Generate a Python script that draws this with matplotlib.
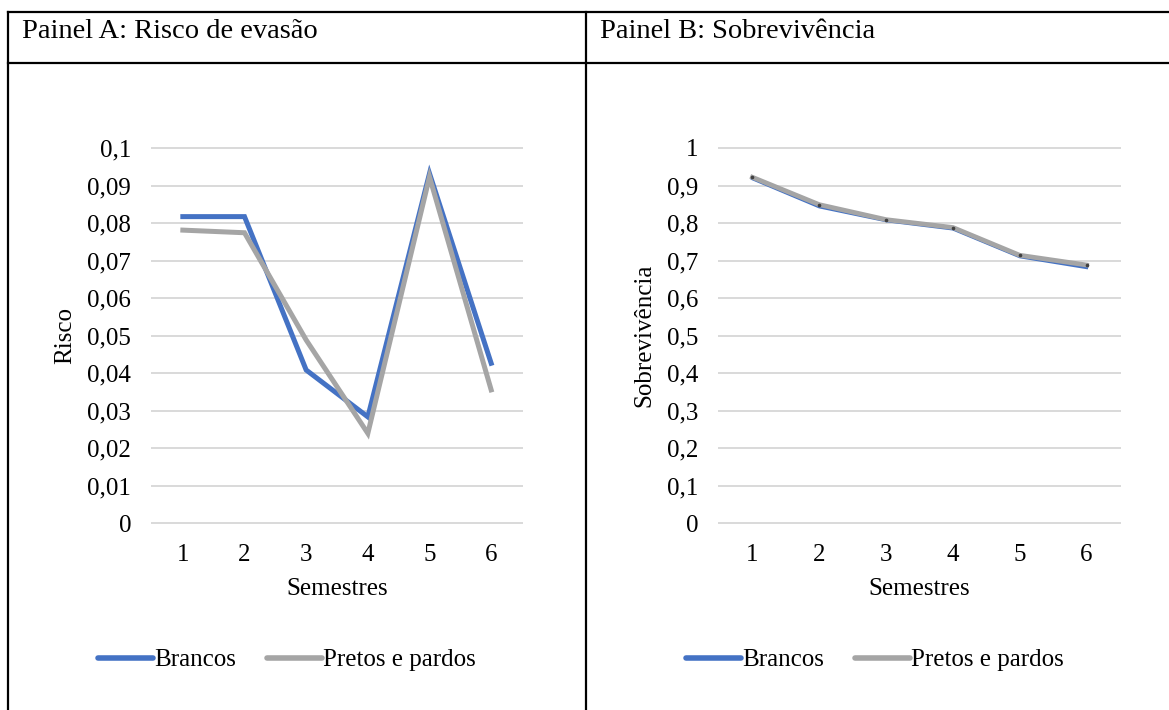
import matplotlib
matplotlib.use("Agg")
import matplotlib.pyplot as plt
from matplotlib.lines import Line2D

plt.rcParams['font.family'] = ['Liberation Serif', 'DejaVu Serif']

semestres = [1, 2, 3, 4, 5, 6]
risco_brancos = [0.0817, 0.0817, 0.0408, 0.0283, 0.0932, 0.0426]
risco_pretos = [0.0781, 0.0774, 0.0488, 0.0239, 0.0923, 0.0355]
sobrev_brancos = [0.918, 0.843, 0.806, 0.784, 0.710, 0.681]
sobrev_pretos = [0.922, 0.849, 0.809, 0.788, 0.714, 0.688]
risco_ticks = [0, 0.01, 0.02, 0.03, 0.04, 0.05, 0.06, 0.07, 0.08, 0.09, 0.1]
risco_labels = ['0', '0,01', '0,02', '0,03', '0,04', '0,05', '0,06', '0,07', '0,08', '0,09', '0,1']
sobrev_ticks = [0, 0.1, 0.2, 0.3, 0.4, 0.5, 0.6, 0.7, 0.8, 0.9, 1.0]
sobrev_labels = ['0', '0,1', '0,2', '0,3', '0,4', '0,5', '0,6', '0,7', '0,8', '0,9', '1']
titles = ['Painel A: Risco de evasão', 'Painel B: Sobrevivência']
series_names = ['Brancos', 'Pretos e pardos']

BLUE = '#4472C4'
GRAY = '#A5A5A5'
GRID = '#D9D9D9'
FS = 18
FS_TITLE = 20.5

W, H = 1169, 710
fig = plt.figure(figsize=(W / 100, H / 100), dpi=100)

def fx(px):
    return px / W

def fy(py):
    return 1 - py / H

# table frame
lw_frame = 1.6
fig.add_artist(Line2D([fx(8), fx(1169)], [fy(12), fy(12)], color='black', lw=lw_frame, transform=fig.transFigure))
fig.add_artist(Line2D([fx(8), fx(1169)], [fy(62.7), fy(62.7)], color='black', lw=lw_frame, transform=fig.transFigure))
fig.add_artist(Line2D([fx(8), fx(8)], [fy(12), fy(712)], color='black', lw=lw_frame, transform=fig.transFigure))
fig.add_artist(Line2D([fx(586), fx(586)], [fy(12), fy(712)], color='black', lw=lw_frame, transform=fig.transFigure))

fig.text(fx(22), fy(31), titles[0], fontsize=FS_TITLE, va='center', ha='left')
fig.text(fx(600), fy(31), titles[1], fontsize=FS_TITLE, va='center', ha='left')

def setup(ax, ticks, labels, ylabel):
    ax.set_xlim(0.5, 6.5)
    ax.set_ylim(ticks[0], ticks[-1])
    ax.set_yticks(ticks)
    ax.set_yticklabels(labels, fontsize=FS)
    ax.set_xticks(semestres)
    ax.set_xticklabels([str(s) for s in semestres], fontsize=FS)
    for s in ax.spines.values():
        s.set_visible(False)
    ax.tick_params(axis='y', length=0, pad=15)
    ax.tick_params(axis='x', length=0, pad=15)
    ax.grid(axis='y', color=GRID, lw=1.4, clip_on=False)
    ax.set_axisbelow(True)
    ax.set_xlabel('Semestres', fontsize=FS, labelpad=9)
    ax.set_ylabel(ylabel, fontsize=FS, labelpad=8)

# Panel A
axA = fig.add_axes([fx(152), fy(523), fx(522) - fx(152), fy(148) - fy(523)])
setup(axA, risco_ticks, risco_labels, 'Risco')
axA.plot(semestres, risco_brancos, color=BLUE, lw=3.6, solid_joinstyle='miter', clip_on=False)
axA.plot(semestres, risco_pretos, color=GRAY, lw=3.6, solid_joinstyle='miter', clip_on=False)

# Panel B
axB = fig.add_axes([fx(719), fy(523), fx(1120) - fx(719), fy(148) - fy(523)])
setup(axB, sobrev_ticks, sobrev_labels, 'Sobrevivência')
axB.plot(semestres, sobrev_brancos, color=BLUE, lw=2.2, clip_on=False)
axB.plot(semestres, sobrev_pretos, color=GRAY, lw=3.4, marker='o', ms=1.6,
         mfc='#404040', mec='#404040', clip_on=False)

handles = [Line2D([0], [0], color=BLUE, lw=4, solid_capstyle='round'),
           Line2D([0], [0], color=GRAY, lw=4, solid_capstyle='round')]
for cx in (fx(287), fx(875)):
    fig.legend(handles, series_names, loc='center', bbox_to_anchor=(cx, fy(660)),
               ncol=2, frameon=False, fontsize=FS, handlelength=2.2,
               handletextpad=0.05, columnspacing=1.2, borderpad=0)

fig.savefig('out.png', dpi=100)
